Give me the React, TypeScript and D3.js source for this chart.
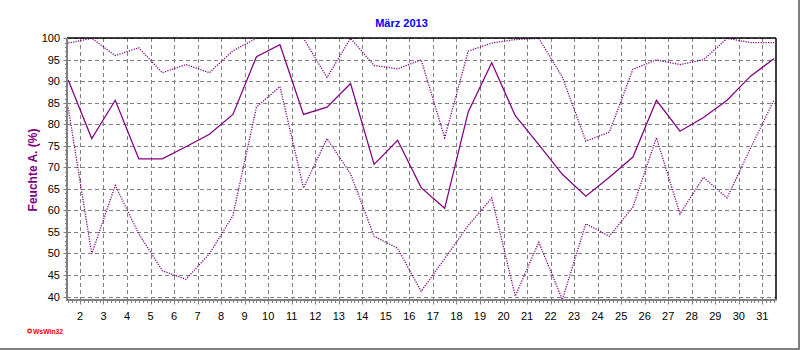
import React from "react";
import * as d3 from "d3";

const days = d3.range(1, 32);
const meanValues = [90.3, 76.7, 85.6, 72.0, 72.0, 74.8, 77.7, 82.3, 95.7, 98.5, 82.3, 84.0, 89.5, 70.7, 76.3, 65.3, 60.5, 82.9, 94.3, 82.0, 75.3, 68.4, 63.3, 67.7, 72.4, 85.6, 78.4, 81.6, 85.6, 91.2, 95.3];
const maxValues = [98.9, 100, 96.0, 97.8, 92.0, 93.9, 92.0, 97.1, 100, 100, 100, 90.9, 100, 93.7, 92.9, 95.0, 76.9, 97.0, 98.9, 99.7, 100, 91.0, 76.1, 78.2, 92.8, 95.0, 93.9, 95.0, 100, 99.0, 99.0];
const minValues = [83.9, 49.9, 65.8, 54.6, 46.0, 44.0, 49.9, 58.8, 84.0, 88.8, 65.2, 76.7, 68.5, 54.0, 51.2, 41.2, 48.8, 56.5, 62.9, 40.1, 52.6, 39.3, 56.9, 54.0, 60.8, 76.9, 59.2, 67.7, 62.9, 74.5, 85.7];
const xTickLabels = d3.range(2, 32);
const yTickLabels = d3.range(40, 101, 5);
const title = "März 2013";
const yTitle = "Feuchte A. (%)";

const W = 800;
const H = 350;
const PURPLE = "#800080";
const GRAY = "#808080";
const FONT = "'Liberation Sans', Arial, sans-serif";

export default function App() {
  const x = d3.scaleLinear().domain([1.5, 31.5]).range([68.2, 774.1]);
  const y = d3.scaleLinear().domain([40, 100]).range([296.5, 38.3]);
  const left = 67;
  const right = 776;
  const top = 38;
  const bottom = 300;

  const line = d3
    .line<number>()
    .x((_, i) => x(days[i] + 0.5))
    .y((v) => y(v));

  const minorX = d3.range(1.5, 31.5001, 1 / 6);
  const minorY = d3.range(40, 100.001, 1);

  return (
    <svg width={W} height={H} style={{ position: "absolute", left: 0, top: 0, background: "#fff" }} fontFamily={FONT}>
      <rect x={0} y={0} width={W} height={H} fill="#fff" />
      {/* grid */}
      {yTickLabels.map((v) => (
        <line key={"gy" + v} x1={left} x2={right} y1={Math.round(y(v)) + 0.5} y2={Math.round(y(v)) + 0.5} stroke={GRAY} strokeDasharray="4,3" />
      ))}
      {xTickLabels.map((d) => (
        <line key={"gx" + d} x1={Math.round(x(d)) + 0.5} x2={Math.round(x(d)) + 0.5} y1={top} y2={bottom} stroke={GRAY} strokeDasharray="4,3" />
      ))}
      {/* series */}
      <path d={line(maxValues) || ""} fill="none" stroke={PURPLE} strokeWidth={1.3} strokeDasharray="1.2,1.3" />
      <path d={line(minValues) || ""} fill="none" stroke={PURPLE} strokeWidth={1.3} strokeDasharray="1.2,1.3" />
      <path d={line(meanValues) || ""} fill="none" stroke={PURPLE} strokeWidth={1.25} />
      {/* frame */}
      <line x1={left} x2={right} y1={top} y2={top} stroke="#000" strokeWidth={1.5} />
      <line x1={right} x2={right} y1={top} y2={bottom} stroke="#000" strokeWidth={1.5} />
      <line x1={left} x2={left} y1={top} y2={bottom + 1} stroke={GRAY} strokeWidth={2} />
      <line x1={left} x2={right + 0.8} y1={bottom} y2={bottom} stroke={GRAY} strokeWidth={2} />
      {/* y ticks */}
      {minorY.map((v) => {
        const major = Math.abs(v % 5) < 0.01;
        return <line key={"ty" + v} x1={left - (major ? 3.5 : 2)} x2={left} y1={Math.round(y(v)) + 0.5} y2={Math.round(y(v)) + 0.5} stroke={GRAY} strokeWidth={1} />;
      })}
      {yTickLabels.map((v) => (
        <text key={"ly" + v} x={60} y={y(v) + 4} textAnchor="end" fontSize={11} fill="#000">
          {v}
        </text>
      ))}
      {/* x ticks */}
      {minorX.map((d, i) => {
        const major = Math.abs(d - Math.round(d)) < 0.01;
        return <line key={"tx" + i} x1={Math.round(x(d)) + 0.5} x2={Math.round(x(d)) + 0.5} y1={bottom} y2={bottom + (major ? 4.5 : 3)} stroke={GRAY} strokeWidth={1} />;
      })}
      {xTickLabels.map((d) => (
        <text key={"lx" + d} x={x(d)} y={320} textAnchor="middle" fontSize={11} fill="#000">
          {d}
        </text>
      ))}
      {/* titles */}
      <text x={401.5} y={26.5} textAnchor="middle" fontSize={11} fontWeight="bold" fill="#0000ff">
        {title}
      </text>
      <text transform="translate(37,170) rotate(-90)" textAnchor="middle" fontSize={12} fontWeight="bold" fill={PURPLE}>
        {yTitle}
      </text>
      {/* logo */}
      <circle cx={29.5} cy={331} r={1.8} fill="#fff" stroke="#ff0000" strokeWidth={1.2} />
      <text x={33} y={333.5} fontSize={6.8} fontWeight="bold" fill="#ff0000">
        WsWin32
      </text>
      {/* outer border */}
      <line x1={W - 1} x2={W - 1} y1={0} y2={H} stroke={GRAY} strokeWidth={2} />
      <line x1={0} x2={W} y1={H - 1} y2={H - 1} stroke={GRAY} strokeWidth={2} />
    </svg>
  );
}
